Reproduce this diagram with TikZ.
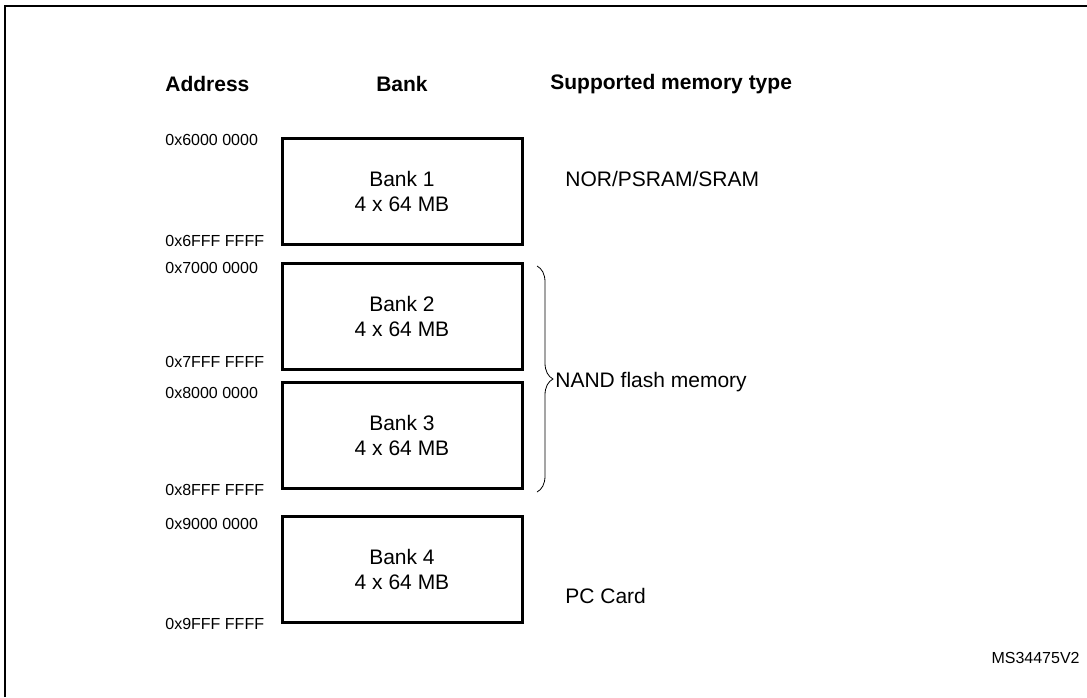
\documentclass[tikz,border=0pt]{standalone}
\usepackage{fontspec}
\setmainfont{Liberation Sans}
\usetikzlibrary{decorations.pathreplacing}
\tikzset{
  bank/.style={draw,line width=1.5pt,minimum width=120pt,minimum height=53pt,align=center,inner sep=0pt,font=\fontsize{10.5}{12.5}\selectfont},
  addr/.style={anchor=west,inner sep=0pt,font=\fontsize{8}{9}\selectfont},
  head/.style={inner sep=0pt,font=\fontsize{10.5}{12}\selectfont\bfseries},
  mtype/.style={anchor=west,inner sep=0pt,font=\fontsize{10.5}{12}\selectfont}
}
\begin{document}
\begin{tikzpicture}[x=0.5pt,y=0.5pt]
\useasboundingbox (0,0) rectangle (1087,-697);
\draw[line width=1pt] (5,-697) -- (5,-6) -- (1087,-6);
%Headers
\node[head,anchor=west] (haddr) at (165,-84) {Address};
\node[head] (hbank) at (402,-84) {Bank};
\node[head,anchor=west] (htype) at (550,-84) {Supported memory type};
%Banks
\node[bank] (b1) at (402,-191) {Bank 1\\4 x 64 MB};
\node[bank] (b2) at (402,-316) {Bank 2\\4 x 64 MB};
\node[bank] (b3) at (402,-435) {Bank 3\\4 x 64 MB};
\node[bank] (b4) at (402,-569) {Bank 4\\4 x 64 MB};
%Addresses
\node[addr] (a1) at (165,-140) {0x6000 0000};
\node[addr] (a2) at (165,-241) {0x6FFF FFFF};
\node[addr] (a3) at (165,-268) {0x7000 0000};
\node[addr] (a4) at (165,-362) {0x7FFF FFFF};
\node[addr] (a5) at (165,-393) {0x8000 0000};
\node[addr] (a6) at (165,-490) {0x8FFF FFFF};
\node[addr] (a7) at (165,-524) {0x9000 0000};
\node[addr] (a8) at (165,-624) {0x9FFF FFFF};
%Memory types
\node[mtype] (t1) at (565,-179) {NOR/PSRAM/SRAM};
\node[mtype] (t2) at (555,-382) {NAND flash memory};
\node[mtype] (t3) at (565,-596) {PC Card};
\coordinate (bt) at (537,-266);
\coordinate (bb) at (537,-492);
\draw[decorate,decoration={brace,amplitude=8pt}] (bt) -- (bb);
\node[anchor=east,inner sep=0pt,font=\fontsize{8}{9}\selectfont] (ref) at (1080,-658) {MS34475V2};
\end{tikzpicture}
\end{document}
